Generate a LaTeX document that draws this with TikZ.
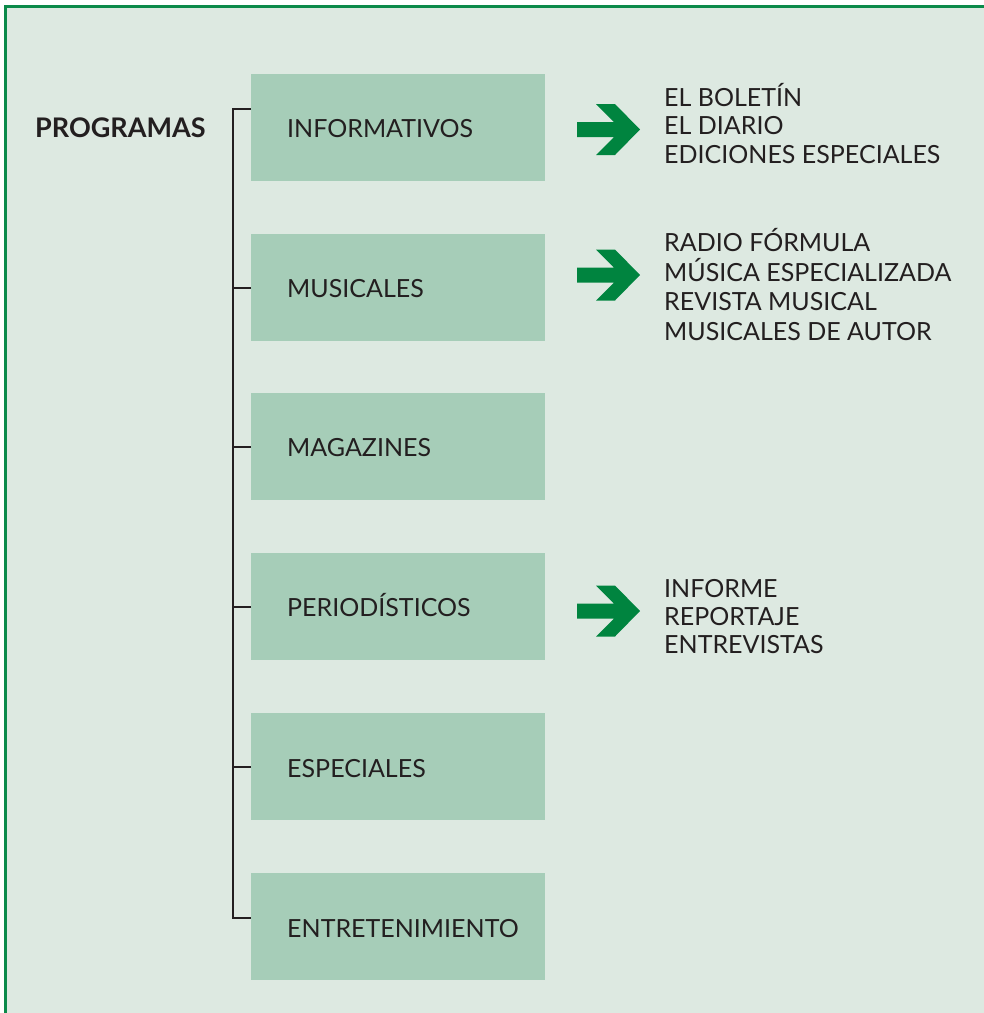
\documentclass[tikz,border=0pt]{standalone}
\usepackage{fontspec}
\setmainfont{Lato}
\definecolor{bgc}{HTML}{DDE9E1}
\definecolor{boxc}{HTML}{A6CDB8}
\definecolor{framec}{HTML}{0B8A4A}
\definecolor{arrc}{HTML}{00843F}
\definecolor{txtc}{HTML}{231F20}
\tikzset{
  cat/.style={fill=boxc, minimum width=294pt, minimum height=107pt, inner sep=0pt, anchor=north west},
  catlabel/.style={anchor=base west, inner sep=0pt, text=txtc, font=\fontsize{25}{28}\selectfont},
  listtext/.style={anchor=base west, inner sep=0pt, text=txtc, align=left},
  bracket/.style={draw=txtc, line width=2pt},
  pics/garrow/.style={code={
    \fill[arrc] (0,-7.5) -- (37,-7.5) -- (19,-25.5) -- (38,-25.5) -- (63,0) -- (38,25.5) -- (19,25.5) -- (37,7.5) -- (0,7.5) -- cycle;
  }}
}
\begin{document}
\begin{tikzpicture}[x=1pt, y=-1pt]
\useasboundingbox (0,0) rectangle (984,1013);
\fill[white] (0,0) rectangle (984,1013);
\fill[bgc] (5.5,6.5) rectangle (984,1013);
\draw[framec, line width=3pt] (5.5,1013) -- (5.5,6.5) -- (984,6.5);

% category boxes
\node[cat] (b1) at (251,74) {};
\node[cat] (b2) at (251,234) {};
\node[cat] (b3) at (251,393) {};
\node[cat] (b4) at (251,553) {};
\node[cat] (b5) at (251,713) {};
\node[cat] (b6) at (251,873) {};

\node[catlabel] (l1) at (287,137) {INFORMATIVOS};
\node[catlabel] (l2) at (287,297) {MUSICALES};
\node[catlabel] (l3) at (287,456) {MAGAZINES};
\node[catlabel] (l4) at (287,616) {PERIODÍSTICOS};
\node[catlabel] (l5) at (287,777) {ESPECIALES};
\node[catlabel] (l6) at (287,937) {ENTRETENIMIENTO};

\node[anchor=base west, inner sep=0pt, text=txtc, font=\bfseries\fontsize{27}{28}\selectfont] (prog) at (35,137.5) {PROGRAMAS};

% bracket
\coordinate (btop) at (233,109);
\coordinate (bbot) at (233,918);
\draw[bracket] (b1.west |- btop) -- (btop) -- (bbot) -- (b6.west |- bbot);
\draw[bracket] (b2.west) -- (b2.west -| btop);
\draw[bracket] (b3.west) -- (b3.west -| btop);
\draw[bracket] (b4.west) -- (b4.west -| btop);
\draw[bracket] (b5.west) -- (b5.west -| btop);

% arrows
\pic at (577,129.5) {garrow};
\pic at (577,275) {garrow};
\pic at (577,611) {garrow};

% lists (anchored at the baseline of their last line)
\node[listtext, font=\fontsize{25}{28.6}\selectfont] (s1) at (664,163.5) {EL BOLETÍN\\EL DIARIO\\EDICIONES ESPECIALES};
\node[listtext, font=\fontsize{25}{29.4}\selectfont] (s2) at (664,340) {RADIO FÓRMULA\\MÚSICA ESPECIALIZADA\\REVISTA MUSICAL\\MUSICALES DE AUTOR};
\node[listtext, font=\fontsize{25}{28.2}\selectfont] (s4) at (664,653.5) {INFORME\\REPORTAJE\\ENTREVISTAS};
\end{tikzpicture}
\end{document}
